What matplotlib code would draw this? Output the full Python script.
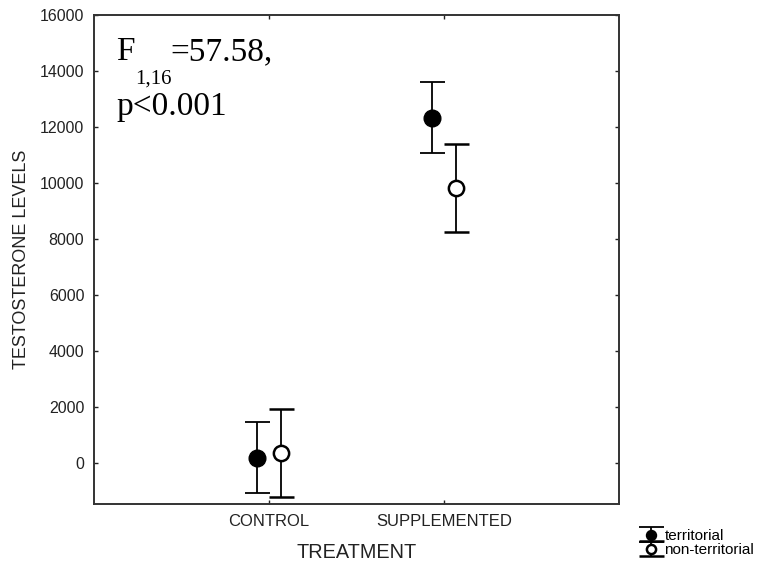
import matplotlib.pyplot as plt

plt.rcParams['font.family'] = ['Liberation Sans', 'DejaVu Sans']

treatments = ['CONTROL', 'SUPPLEMENTED']
territorial_mean = [185, 12330]
territorial_err = [1270, 1275]
nonterritorial_mean = [365, 9830]
nonterritorial_err = [1560, 1565]
y_ticks = [0, 2000, 4000, 6000, 8000, 10000, 12000, 14000, 16000]


def main():
    fig = plt.figure(figsize=(7.61, 5.62), dpi=100)
    ax = fig.add_axes([94 / 761, 58 / 562, 525 / 761, 489 / 562])

    pos = [1, 2]
    off = 0.07
    ax.errorbar([p - off for p in pos], territorial_mean, yerr=territorial_err,
                fmt='o', color='black', ms=12, capsize=9, elinewidth=1.3,
                capthick=1.3, label='territorial')
    ax.errorbar([p + off for p in pos], nonterritorial_mean, yerr=nonterritorial_err,
                fmt='o', color='black', mfc='white', ms=11, mew=1.8, capsize=9,
                elinewidth=1.3, capthick=1.3, label='non-territorial')

    ax.set_xlim(0, 3)
    ax.set_ylim(-1460, 16000)
    ax.set_xticks(pos)
    ax.set_xticklabels(treatments, fontsize=12)
    ax.set_yticks(y_ticks)
    ax.set_yticklabels([str(v) for v in y_ticks], fontsize=11.5)
    ax.tick_params(direction='in', length=3, width=1, top=True, right=True,
                   pad=7, colors='#222222')
    for s in ax.spines.values():
        s.set_linewidth(1.4)
        s.set_color('#333333')

    ax.set_xlabel('TREATMENT', fontsize=14.3, color='#222222', labelpad=10)
    ax.set_ylabel('TESTOSTERONE LEVELS', fontsize=13, color='#222222', labelpad=7)

    serif = ['Liberation Serif', 'DejaVu Serif']
    ax.text(0.043, 0.908, 'F', transform=ax.transAxes, fontsize=24, family=serif)
    ax.text(0.078, 0.86, '1,16', transform=ax.transAxes, fontsize=15, family=serif)
    ax.text(0.145, 0.908, '=57.58,', transform=ax.transAxes, fontsize=24, family=serif)
    ax.text(0.043, 0.795, 'p<0.001', transform=ax.transAxes, fontsize=24, family=serif)

    fig.legend(loc='lower right', bbox_to_anchor=(1.005, -0.01), frameon=False,
               fontsize=11, handletextpad=0.3, labelspacing=0.0, borderpad=0.2,
               handlelength=1.1, handleheight=0.6, markerscale=0.6)
    fig.savefig('out.png', dpi=100)


if __name__ == '__main__':
    main()
